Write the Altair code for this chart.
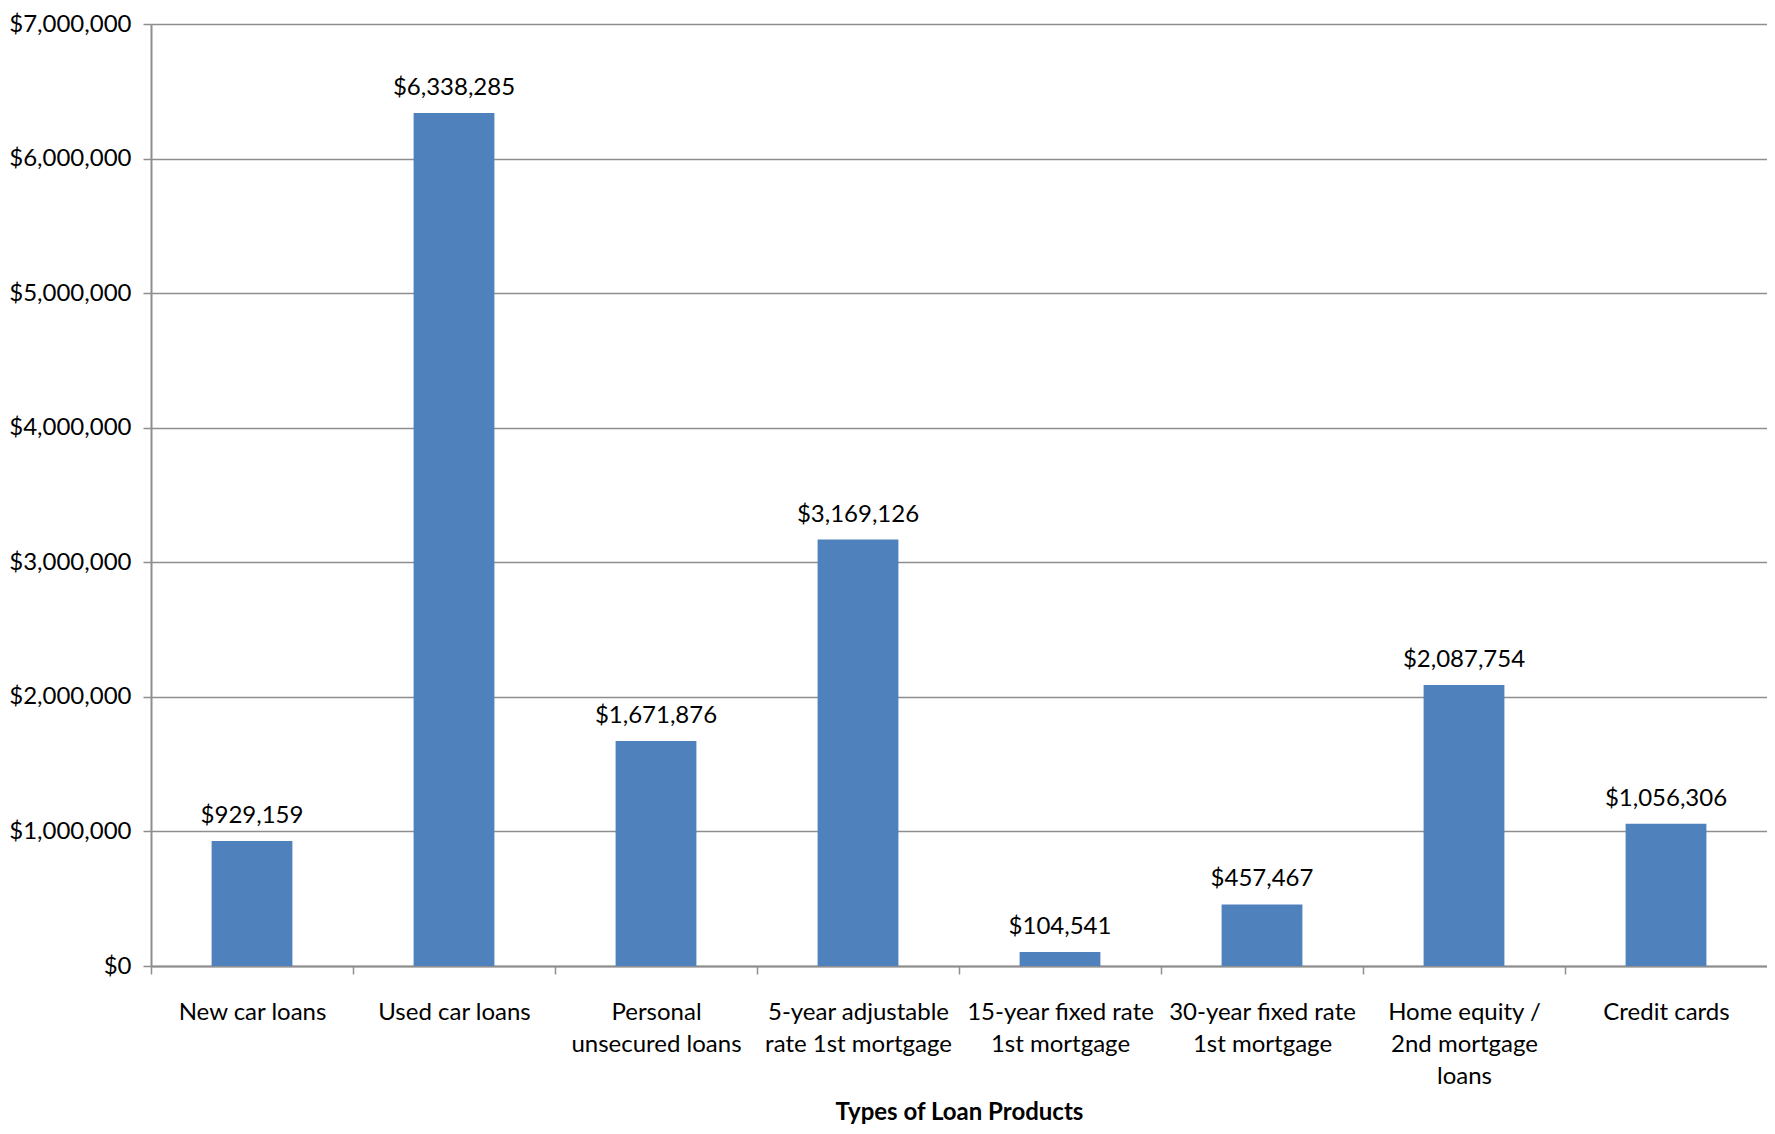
import altair as alt
import pandas as pd

categories = [
    "New car loans",
    "Used car loans",
    "Personal\nunsecured loans",
    "5-year adjustable\nrate 1st mortgage",
    "15-year fixed rate\n1st mortgage",
    "30-year fixed rate\n1st mortgage",
    "Home equity /\n2nd mortgage\nloans",
    "Credit cards",
]
values = [929159, 6338285, 1671876, 3169126, 104541, 457467, 2087754, 1056306]
y_ticks = [0, 1000000, 2000000, 3000000, 4000000, 5000000, 6000000, 7000000]

df = pd.DataFrame({"category": categories, "value": values})

FONT = "Lato"
FS = 24
GRAY = "#8E8E8E"
W = 1616
STEP = W / len(categories)

x_enc = alt.X(
    "category:N",
    sort=categories,
    scale=alt.Scale(paddingInner=0.6, paddingOuter=0.3),
    axis=alt.Axis(
        title="Types of Loan Products",
        labelExpr="split(datum.label, '\\n')",
        labelAngle=0,
        labelOverlap=False,
        labelLimit=0,
        labelLineHeight=32,
        labelBaseline="top",
        labelPadding=26,
        tickOffset=-STEP / 2,
        labelOffset=STEP / 2,
        tickSize=8,
        tickColor=GRAY,
        tickWidth=1.5,
        domainColor=GRAY,
        domainWidth=2,
        titleFontWeight="bold",
        titleY=146,
        titleBaseline="middle",
    ),
)
y_enc = alt.Y(
    "value:Q",
    scale=alt.Scale(domain=[0, 7000000], nice=False),
    axis=alt.Axis(
        values=y_ticks,
        format="$,.0f",
        title=None,
        grid=True,
        gridColor=GRAY,
        gridWidth=1.5,
        tickSize=8,
        tickColor=GRAY,
        tickWidth=1.5,
        domainColor=GRAY,
        domainWidth=2,
        labelPadding=12,
    ),
)

bars = alt.Chart(df).mark_bar(color="#4F81BD").encode(x=x_enc, y=y_enc)
labels = alt.Chart(df).mark_text(
    dy=-18, baseline="alphabetic", fontSize=FS, font=FONT, color="black"
).encode(
    x=alt.X("category:N", sort=categories),
    y=alt.Y("value:Q"),
    text=alt.Text("value:Q", format="$,.0f"),
)

chart = (
    alt.layer(bars, labels)
    .properties(
        width=W,
        height=942,
        autosize=alt.AutoSizeParams(type="none"),
        padding={"left": 143, "top": 16, "right": 0, "bottom": 160},
    )
    .configure_view(stroke=None)
    .configure_axis(
        labelFont=FONT,
        labelFontSize=FS,
        labelColor="black",
        titleFont=FONT,
        titleFontSize=FS,
        titleColor="black",
    )
)

chart.save("out.html", embed_options={"renderer": "svg", "actions": False})
